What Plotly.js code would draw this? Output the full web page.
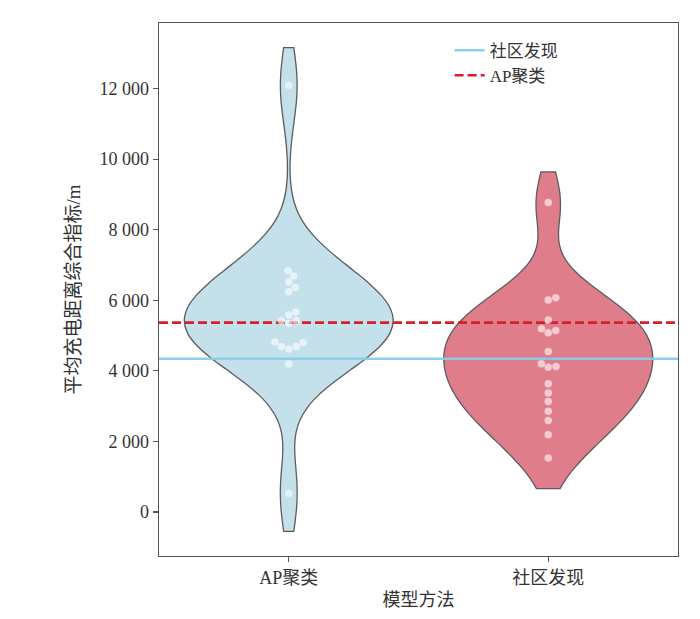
<!DOCTYPE html>
<html><head><meta charset="utf-8">
<script src="https://cdn.plot.ly/plotly-3.0.1.min.js"></script>
<style>html,body{margin:0;padding:0;background:#fff}#chart{width:700px;height:619px}</style>
</head><body><div id="chart"></div>
<script>
// ---- data ----
const categories = ['AP聚类', '社区发现'];
const apValues = [12090, 6840, 6690, 6520, 6360, 6240, 5670, 5580, 5420, 5420, 5350, 4820, 4800, 4690, 4690, 4620, 4190, 520];
const communityValues = [8770, 6070, 6010, 5440, 5190, 5140, 5080, 4550, 4200, 4120, 4100, 3630, 3370, 3130, 2850, 2590, 2190, 1530];
const bandwidths = [1070, 870];
const refLineNames = ['社区发现', 'AP聚类'];
const refLineValues = [4340, 5365];
const yTickVals = [0, 2000, 4000, 6000, 8000, 10000, 12000];
const xAxisTitle = '模型方法';
const yAxisTitle = '平均充电距离综合指标/m';

// ---- layout constants ----
const W = 700, H = 619;
const margin = {l: 159, r: 22, t: 23, b: 63, pad: 0};
const xRange = [-0.5, 1.5];
const yRange = [-1250, 13860];
const plotW = W - margin.l - margin.r;
const plotH = H - margin.t - margin.b;
const pxPerX = plotW / (xRange[1] - xRange[0]);
const pxPerY = plotH / (yRange[1] - yRange[0]);
const CUT = 1; // density support extends one bandwidth past the data

const FONT = 'Liberation Serif, "Noto Sans CJK SC", serif';
const TXT = '#333';

// simple beeswarm (seaborn-like) computed from the data in pixel space
function swarm(values, d) {
  const idx = values.map((v, i) => i).sort((a, b) => values[a] - values[b]);
  const placed = [];
  const offs = new Array(values.length);
  idx.forEach(i => {
    const y = values[i] * pxPerY;
    const nb = placed.filter(p => Math.abs(p.y - y) < d);
    const cands = [0];
    nb.forEach(p => {
      const dx = Math.sqrt(d * d - (p.y - y) * (p.y - y));
      cands.push(p.x + dx, p.x - dx);
    });
    cands.sort((a, b) => Math.abs(a) - Math.abs(b));
    const x = cands.find(c => nb.every(p => (p.x - c) ** 2 + (p.y - y) ** 2 >= d * d - 1e-6));
    placed.push({x: x, y: y});
    offs[i] = x / pxPerX;
  });
  return offs;
}

const groups = [apValues, communityValues];
const fills = ['#c3e0eb', '#e07d8b'];
const traces = [];

groups.forEach((vals, g) => {
  const bw = bandwidths[g];
  traces.push({
    type: 'violin',
    x: vals.map(() => g),
    y: vals,
    name: categories[g],
    bandwidth: bw,
    spanmode: 'manual',
    span: [Math.min(...vals) - CUT * bw, Math.max(...vals) + CUT * bw],
    points: false,
    box: {visible: false},
    meanline: {visible: false},
    fillcolor: fills[g],
    opacity: 1,
    line: {color: '#5c5c5c', width: 1.3},
    width: 0.805,
    scalemode: 'width',
    showlegend: false,
    hoverinfo: 'skip'
  });
});

const lineStyles = [
  {color: 'rgba(135,206,235,0.95)', width: 2.5, dash: 'solid'},
  {color: '#d42029', width: 2.6, dash: '9px,4px'}
];
refLineNames.forEach((nm, k) => {
  traces.push({
    type: 'scatter',
    mode: 'lines',
    x: xRange,
    y: [refLineValues[k], refLineValues[k]],
    name: nm,
    line: lineStyles[k],
    showlegend: true,
    hoverinfo: 'skip'
  });
});

groups.forEach((vals, g) => {
  const offs = swarm(vals, 7.8);
  traces.push({
    type: 'scatter',
    mode: 'markers',
    x: vals.map((v, i) => g + offs[i]),
    y: vals,
    marker: {size: 7.5, color: 'rgba(255,255,255,0.6)', line: {width: 0}},
    showlegend: false,
    hoverinfo: 'skip'
  });
});

const axisCommon = {
  showline: true, mirror: true, linecolor: '#555', linewidth: 1.3,
  ticks: 'outside', ticklen: 5, tickcolor: '#555', tickwidth: 1.2,
  showgrid: false, zeroline: false,
  tickfont: {family: FONT, size: 18, color: TXT}
};

const layout = {
  width: W, height: H,
  margin: margin,
  paper_bgcolor: '#fff', plot_bgcolor: '#fff',
  separators: '. ',
  showlegend: true,
  violinmode: 'overlay',
  xaxis: Object.assign({}, axisCommon, {
    range: xRange,
    tickvals: [0, 1],
    ticktext: categories,
    title: {text: xAxisTitle, font: {family: FONT, size: 18, color: TXT}, standoff: 6}
  }),
  yaxis: Object.assign({}, axisCommon, {
    range: yRange,
    tickvals: yTickVals,
    tickformat: ',d',
    title: {text: yAxisTitle, font: {family: FONT, size: 19, color: TXT}, standoff: 14}
  }),
  legend: {
    x: 0.56, y: 0.982, xanchor: 'left', yanchor: 'top',
    bgcolor: 'rgba(0,0,0,0)',
    font: {family: FONT, size: 17, color: TXT},
    tracegroupgap: 0
  }
};

Plotly.newPlot('chart', traces, layout, {displayModeBar: false, staticPlot: true});
</script>
</body></html>
